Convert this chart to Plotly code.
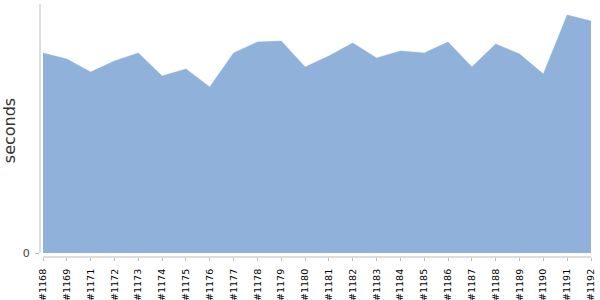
import plotly.graph_objects as go

builds = ["#1168", "#1169", "#1171", "#1172", "#1173", "#1174", "#1175", "#1176",
          "#1177", "#1178", "#1179", "#1180", "#1181", "#1182", "#1183", "#1184",
          "#1185", "#1186", "#1187", "#1188", "#1189", "#1190", "#1191", "#1192"]
seconds = [200, 194, 181, 192, 200, 177, 184, 166,
           200, 211, 212, 186, 197, 210, 195, 202,
           200, 211, 186, 209, 199, 179, 238, 232]

fig = go.Figure()
fig.add_trace(go.Scatter(
    x=builds, y=seconds, mode="lines", fill="tozeroy",
    fillcolor="#8fb1da", line=dict(color="#8fb1da", width=0.5),
    hoverinfo="x+y", showlegend=False,
))

fig.update_layout(
    width=600, height=300,
    margin=dict(l=40, r=9, t=4, b=43),
    plot_bgcolor="white", paper_bgcolor="white",
    font=dict(family="DejaVu Sans", color="#000"),
    xaxis=dict(
        type="category", range=[-0.126, len(builds) - 1],
        tickangle=-90, tickfont=dict(size=9.5, color="#000"),
        ticks="outside", ticklen=3, tickcolor="#bbb",
        ticklabelstandoff=4, automargin=False,
        showgrid=False, zeroline=False, showline=False,
    ),
    yaxis=dict(
        range=[-4, 249], tickvals=[0], ticktext=["0"],
        tickfont=dict(size=11, color="#444"),
        ticks="outside", ticklen=4, tickcolor="#bbb",
        ticklabelstandoff=3, automargin=False,
        showgrid=False, zeroline=False, showline=False,
        title=dict(text="seconds", font=dict(size=16, color="#333"), standoff=5),
    ),
    shapes=[
        dict(type="line", xref="paper", yref="y", x0=0, x1=0, y0=0, y1=249,
             line=dict(color="#bbb", width=1)),
        dict(type="line", xref="x", yref="paper", x0=0, x1=len(builds) - 1, y0=0, y1=0,
             line=dict(color="#bbb", width=1)),
    ],
)

fig.write_html("out.html")
